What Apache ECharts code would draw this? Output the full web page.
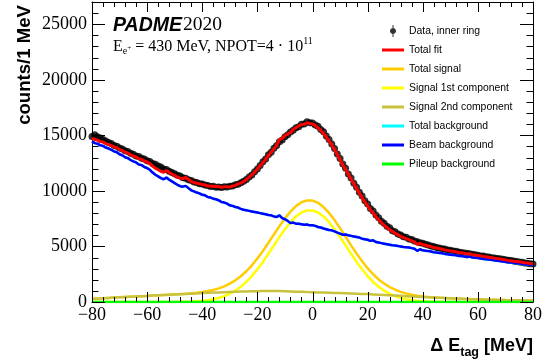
<!DOCTYPE html>
<html>
<head>
<meta charset="utf-8">
<script src="https://cdn.jsdelivr.net/npm/echarts@6/dist/echarts.min.js"></script>
<style>
  html, body { margin: 0; padding: 0; background: #fff; }
  #chart { width: 546px; height: 363px; }
</style>
</head>
<body>
<div id="chart"></div>
<script>
// Tag-energy residual spectrum, PADME 2020 run, inner calorimeter ring.
const E_START = -80;    // first bin centre [MeV]
const BIN_STEP = 1;     // histogram binning [MeV]
const CURVE_STEP = 2;   // sampling step of the smooth signal curves [MeV]
const X_MIN = -80, X_MAX = 80, Y_MIN = 0, Y_MAX = 27000;

// Measured counts per 1 MeV bin, -80 ... 80 MeV
const dataCounts = [
  14900,15050,14880,14760,14620,14480,14350,14260,14080,14010,
  13850,13760,13610,13540,13380,13300,13140,13090,12930,12880,
  12720,12640,12470,12400,12230,12160,11980,11920,11760,11650,
  11540,11400,11330,11190,11140,11000,10930,10810,10760,10650,
  10620,10520,10480,10400,10410,10330,10360,10300,10380,10340,
  10420,10450,10560,10600,10740,10860,11020,11240,11430,11720,
  11960,12280,12620,12880,13260,13480,13840,14080,14420,14580,
  14880,15060,15290,15460,15690,15780,15990,16020,16230,16130,
  16120,15930,15820,15530,15320,14930,14620,14220,13820,13320,
  12920,12420,12030,11520,11170,10680,10330,9870,9530,9120,
  8830,8420,8180,7820,7580,7270,7080,6820,6680,6420,
  6330,6120,6030,5870,5830,5680,5630,5480,5430,5330,
  5280,5190,5120,5050,4990,4900,4860,4790,4760,4690,
  4650,4600,4560,4490,4460,4410,4380,4340,4300,4250,
  4210,4150,4130,4070,4050,3990,3970,3920,3890,3840,
  3810,3760,3730,3680,3650,3600,3570,3520,3490,3450,
  3410
];

// Total fit (background template + signal), per 1 MeV bin
const totalFit = [
  14750,14611,14572,14433,14395,14257,14190,14082,13955,13887,
  13720,13633,13476,13409,13252,13135,13058,12891,12844,12687,
  12600,12463,12227,12040,11903,11767,11681,11845,11659,11523,
  11388,11253,11139,11116,11203,11023,10843,10767,10692,10653,
  10555,10545,10435,10437,10390,10409,10379,10321,10363,10381,
  10350,10448,10497,10632,10698,10843,11019,11235,11451,11707,
  11963,12254,12545,12861,13157,13504,13781,14102,14624,14723,
  14973,15129,15235,15532,15680,15851,15973,16007,16122,16060,
  16026,15900,15673,15460,15166,14850,14497,14164,13721,13275,
  12794,12328,11955,11500,11051,10640,10205,9820,9363,9020,
  8643,8300,8047,7685,7384,7160,6903,6720,6496,6345,
  6185,6060,5915,5792,5700,5614,5509,5416,5173,5290,
  5156,5102,5039,4990,4901,4855,4809,4755,4690,4647,
  4585,4565,4515,4455,4425,4386,4327,4347,4258,4229,
  4190,4153,4096,4069,4032,4005,3948,3911,3884,3827,
  3790,3745,3720,3675,3650,3615,3570,3535,3510,3465,
  3440
];

// Beam-induced background template, per 1 MeV bin
const beamBkg = [
  14450,14300,14250,14100,14050,13900,13820,13700,13560,13480,
  13300,13200,13030,12950,12780,12650,12560,12380,12320,12150,
  12050,11900,11650,11450,11300,11150,11050,11200,11000,10850,
  10700,10550,10420,10380,10450,10250,10050,9950,9850,9780,
  9650,9600,9450,9400,9300,9250,9150,9000,8950,8850,
  8700,8650,8550,8500,8380,8300,8250,8200,8150,8100,
  8050,8000,7950,7900,7830,7800,7700,7650,7800,7550,
  7450,7300,7100,7150,7050,7050,7000,6950,6980,6900,
  6900,6850,6750,6700,6620,6550,6480,6450,6350,6250,
  6150,6050,6080,6000,5950,5900,5850,5800,5700,5650,
  5600,5500,5550,5400,5350,5300,5250,5200,5150,5100,
  5080,5050,5000,4950,4930,4900,4850,4800,4600,4750,
  4650,4620,4580,4550,4480,4450,4420,4380,4330,4300,
  4250,4240,4200,4150,4130,4100,4050,4080,4000,3980,
  3950,3920,3870,3850,3820,3800,3750,3720,3700,3650,
  3620,3580,3560,3520,3500,3470,3430,3400,3380,3340,
  3320
];

// Signal components, sampled every 2 MeV from -80 to 80 MeV
const totalSignal = [
  300,322,345,370,395,420,446,472,498,524,
  550,577,603,631,659,688,719,753,793,842,
  905,985,1090,1229,1413,1650,1947,2318,2769,3301,
  3913,4595,5327,6081,6824,7523,8135,8630,8973,9142,
  9126,8923,8546,8017,7371,6644,5875,5101,4355,3663,
  3043,2497,2034,1653,1346,1105,915,770,659,573,
  506,459,421,389,360,335,315,295,277,258,
  240,226,212,198,184,170,160,150,140,130,
  120
];
const signal1st = [
  0,0,0,0,0,0,0,0,0,0,
  0,1,1,3,5,8,15,25,41,66,
  105,163,246,363,525,740,1021,1376,1813,2333,
  2935,3609,4337,5093,5844,6555,7185,7698,8059,8246,
  8246,8059,7698,7185,6555,5844,5093,4337,3609,2935,
  2333,1813,1376,1021,740,525,363,246,163,105,
  66,41,25,15,8,5,3,1,1,0,
  0,0,0,0,0,0,0,0,0,0,
  0
];
const signal2nd = [
  300,322,345,370,395,420,446,472,498,524,
  550,576,602,628,654,680,704,728,752,776,
  800,822,844,866,888,910,926,942,956,968,
  978,986,990,988,980,968,950,932,914,896,
  880,864,848,832,816,800,782,764,746,728,
  710,684,658,632,606,580,552,524,496,468,
  440,418,396,374,352,330,312,294,276,258,
  240,226,212,198,184,170,160,150,140,130,
  120
];

// Pile-up background is negligible over the whole range
const pileupE = [-80, -40, 0, 40, 80];
const pileupCounts = [0, 0, 0, 0, 0];

// Tick positions
const xMajorTicks = [-80, -60, -40, -20, 0, 20, 40, 60, 80];
const xMinorTicks = [
  -76, -72, -68, -64, -56, -52, -48, -44, -36, -32, -28, -24, -16, -12, -8, -4,
  4, 8, 12, 16, 24, 28, 32, 36, 44, 48, 52, 56, 64, 68, 72, 76
];
const yMajorTicks = [0, 5000, 10000, 15000, 20000, 25000];
const yMinorTicks = [
  1000, 2000, 3000, 4000, 6000, 7000, 8000, 9000, 11000, 12000, 13000, 14000,
  16000, 17000, 18000, 19000, 21000, 22000, 23000, 24000, 26000
];

const legendNames = [
  'Data, inner ring', 'Total fit', 'Total signal', 'Signal 1st component',
  'Signal 2nd component', 'Total background', 'Beam background', 'Pileup background'
];

const toPairs = (vals, step) => vals.map((v, i) => [E_START + i * step, v]);
const zipPairs = (xs, ys) => xs.map((x, i) => [x, ys[i]]);

const SERIF = '"Liberation Serif", "DejaVu Serif", serif';
const SANS = '"Liberation Sans", Arial, Helvetica, sans-serif';

// --- helper for multi-size text runs (sub/superscripts) ---
const mctx = document.createElement('canvas').getContext('2d');
const fontOf = p => `${p.style || 'normal'} ${p.weight || 'normal'} ${p.size}px ${p.family}`;
function textRuns(x0, baseline, parts, alignRight) {
  const widths = parts.map(p => { mctx.font = fontOf(p); return mctx.measureText(p.text).width; });
  const total = widths.reduce((a, b) => a + b, 0) + parts.reduce((a, p) => a + (p.dx || 0), 0);
  let x = alignRight ? x0 - total : x0;
  return parts.map((p, i) => {
    x += (p.dx || 0);
    const el = {
      type: 'text', silent: true, z: 10,
      x: x,
      y: baseline + (p.dy || 0) - 0.34 * p.size,
      style: {
        text: p.text, font: fontOf(p), fill: '#000',
        align: 'left', verticalAlign: 'middle',
        textAlign: 'left', textVerticalAlign: 'middle'
      }
    };
    x += widths[i];
    return el;
  });
}

const chart = echarts.init(document.getElementById('chart'), null, { renderer: 'canvas' });

const minus = v => String(v).replace('-', '\u2212');
const BLACK_LINE = { color: '#000', width: 1 };

const xAxisBase = {
  type: 'value', min: X_MIN, max: X_MAX, interval: 20,
  axisLine: { show: true, onZero: false, lineStyle: BLACK_LINE },
  splitLine: { show: false },
  axisTick: { show: false },
  minorTick: { show: false }
};
const yAxisBase = {
  type: 'value', min: Y_MIN, max: Y_MAX, interval: 5000,
  axisLine: { show: true, onZero: false, lineStyle: BLACK_LINE },
  splitLine: { show: false },
  axisTick: { show: false },
  minorTick: { show: false }
};

const lineSeries = (name, data, color, width, z) => ({
  name, type: 'line', data, showSymbol: false, symbol: 'none',
  lineStyle: { color, width }, itemStyle: { color }, z, animation: false
});

// Frame ticks pointing into the plot on all four sides, placed through the axis scales
const crisp = v => Math.round(v) + 0.5;
const tickLine = (x1, y1, x2, y2) => ({
  type: 'line', shape: { x1, y1, x2, y2 }, style: { stroke: '#000', lineWidth: 1 }
});
const xTickSeries = (vals, len) => ({
  type: 'custom', silent: true, z: 6, clip: false,
  data: vals.map(v => [v, Y_MIN]),
  renderItem: (params, api) => {
    const v = api.value(0);
    const b = api.coord([v, Y_MIN]);
    const t = api.coord([v, Y_MAX]);
    const x = crisp(b[0]);
    return { type: 'group', children: [tickLine(x, b[1], x, b[1] - len), tickLine(x, t[1], x, t[1] + len)] };
  }
});
const yTickSeries = (vals, len) => ({
  type: 'custom', silent: true, z: 6, clip: false,
  data: vals.map(v => [X_MIN, v]),
  renderItem: (params, api) => {
    const v = api.value(1);
    const l = api.coord([X_MIN, v]);
    const r = api.coord([X_MAX, v]);
    const y = crisp(l[1]);
    return { type: 'group', children: [tickLine(l[0], y, l[0] + len, y), tickLine(r[0], y, r[0] - len, y)] };
  }
});

// legend glyphs: filled marker with vertical error bar, and a plain thick line
const dataIcon = 'path://M2.5,0H3.5V12H2.5Z M0,6C0,4.34 1.34,3 3,3C4.66,3 6,4.34 6,6C6,7.66 4.66,9 3,9C1.34,9 0,7.66 0,6Z';
const lineIcon = 'path://M0,0H22V3H0Z';

const option = {
  animation: false,
  backgroundColor: '#fff',
  grid: { left: 92, right: 13, top: 2, bottom: 61, containLabel: false },
  xAxis: [
    {
      ...xAxisBase, position: 'bottom',
      axisLabel: { show: true, margin: 4, fontFamily: SERIF, fontSize: 18, color: '#000', formatter: minus }
    },
    { ...xAxisBase, position: 'top', axisLabel: { show: false } }
  ],
  yAxis: [
    {
      ...yAxisBase, position: 'left',
      axisLabel: {
        show: true, showMaxLabel: false, margin: 5,
        fontFamily: SERIF, fontSize: 18, color: '#000',
        formatter: v => (v % 5000 === 0 ? String(v) : '')
      }
    },
    { ...yAxisBase, position: 'right', axisLabel: { show: false } }
  ],
  legend: {
    orient: 'vertical', left: 377, top: 20, padding: 5,
    itemWidth: 22, itemHeight: 12, itemGap: 7,
    selectedMode: false,
    textStyle: { fontFamily: SANS, fontSize: 10.4, color: '#000', lineHeight: 12 },
    data: legendNames.map((n, i) => ({ name: n, icon: i === 0 ? dataIcon : lineIcon }))
  },
  series: [
    {
      name: legendNames[0], type: 'scatter', data: toPairs(dataCounts, BIN_STEP),
      symbol: 'circle', symbolSize: 7, itemStyle: { color: '#000' }, z: 2
    },
    lineSeries(legendNames[2], toPairs(totalSignal, CURVE_STEP), '#ffcc00', 2.5, 3),
    lineSeries(legendNames[3], toPairs(signal1st, CURVE_STEP), '#ffff00', 2.5, 3),
    lineSeries(legendNames[4], toPairs(signal2nd, CURVE_STEP), '#c8c23c', 2.5, 3),
    // total background = beam + pileup; pileup is zero, so it lies under the beam curve
    lineSeries(legendNames[5], toPairs(beamBkg, BIN_STEP), '#00ffff', 2.5, 3),
    lineSeries(legendNames[6], toPairs(beamBkg, BIN_STEP), '#0000ff', 2.5, 4),
    lineSeries(legendNames[7], zipPairs(pileupE, pileupCounts), '#00ff00', 2.5, 4),
    lineSeries(legendNames[1], toPairs(totalFit, BIN_STEP), '#ff0000', 3, 5),
    xTickSeries(xMajorTicks, 10),
    xTickSeries(xMinorTicks, 5),
    yTickSeries(yMajorTicks, 13),
    yTickSeries(yMinorTicks, 6.5)
  ],
  graphic: [
    // y-axis title, rotated, aligned to the top of the frame
    {
      type: 'text', silent: true, x: 25, y: 5, rotation: Math.PI / 2,
      style: {
        text: 'counts/1 MeV', font: `bold 18.6px ${SANS}`, fill: '#000',
        align: 'right', verticalAlign: 'middle', textAlign: 'right', textVerticalAlign: 'middle'
      }
    },
    // experiment label
    ...textRuns(113, 32, [
      { text: 'PADME', size: 19.5, family: SANS, weight: 'bold', style: 'italic' },
      { text: '2020', size: 19.5, family: SERIF, dx: 1 }
    ]),
    ...textRuns(113, 52, [
      { text: 'E', size: 16, family: SERIF },
      { text: 'e', size: 10, family: SERIF, dy: 3 },
      { text: '+', size: 7, family: SERIF, dy: -1 },
      { text: ' = 430 MeV, NPOT=4 \u00b7 10', size: 16, family: SERIF },
      { text: '11', size: 10, family: SERIF, dy: -7 }
    ]),
    // x-axis title
    ...textRuns(533, 352, [
      { text: '\u0394 E', size: 18, family: SANS, weight: 'bold' },
      { text: 'tag', size: 12.5, family: SANS, weight: 'bold', dy: 5 },
      { text: ' [MeV]', size: 18, family: SANS, weight: 'bold' }
    ], true)
  ]
};

chart.setOption(option);
</script>
</body>
</html>
